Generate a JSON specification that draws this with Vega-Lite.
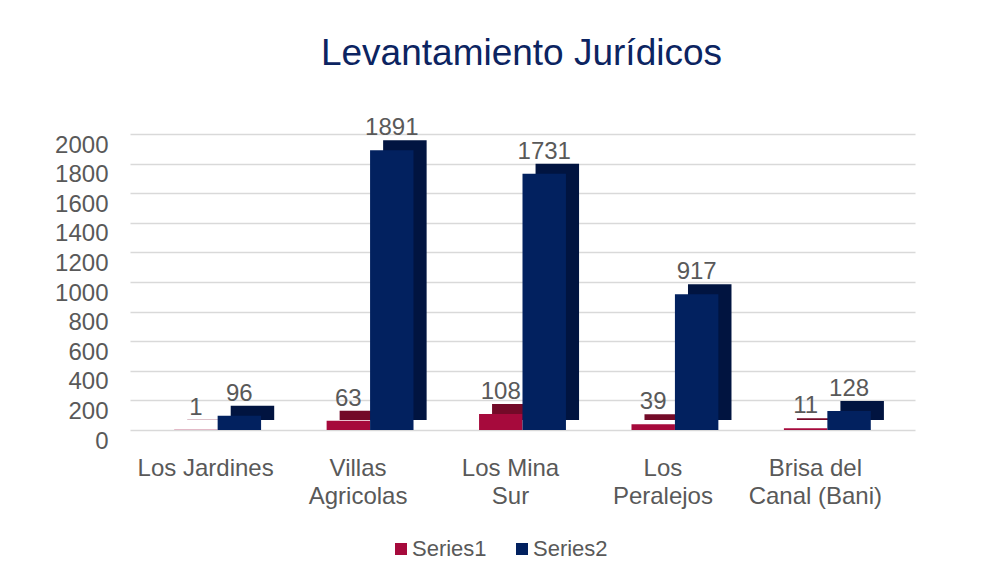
{
  "$schema": "https://vega.github.io/schema/vega-lite/v6.json",
  "autosize": "none",
  "width": 785,
  "height": 296,
  "padding": {"left": 130, "top": 134, "right": 69, "bottom": 151},
  "background": "white",
  "title": {
    "text": "Levantamiento Jurídicos",
    "font": "Liberation Sans",
    "fontSize": 37,
    "fontWeight": "normal",
    "color": "#0c2461",
    "anchor": "middle",
    "dx": -1,
    "offset": 43
  },
  "data": {
    "values": [
      {"category": "Los Jardines", "series": "Series1", "value": 1},
      {"category": "Los Jardines", "series": "Series2", "value": 96},
      {"category": "Villas Agricolas", "series": "Series1", "value": 63},
      {"category": "Villas Agricolas", "series": "Series2", "value": 1891},
      {"category": "Los Mina Sur", "series": "Series1", "value": 108},
      {"category": "Los Mina Sur", "series": "Series2", "value": 1731},
      {"category": "Los Peralejos", "series": "Series1", "value": 39},
      {"category": "Los Peralejos", "series": "Series2", "value": 917},
      {"category": "Brisa del Canal (Bani)", "series": "Series1", "value": 11},
      {"category": "Brisa del Canal (Bani)", "series": "Series2", "value": 128}
    ]
  },
  "encoding": {
    "x": {
      "field": "category",
      "type": "nominal",
      "sort": null,
      "title": null,
      "scale": {"paddingInner": 0.43, "paddingOuter": 0.29},
      "axis": {
        "domain": false,
        "ticks": false,
        "labelAngle": 0,
        "labelPadding": 26,
        "labelOffset": -12,
        "labelFont": "Liberation Sans",
        "labelFontSize": 24,
        "labelColor": "#595959",
        "labelLineHeight": 28,
        "labelBaseline": "top",
        "labelExpr": "datum.value == 'Villas Agricolas' ? ['Villas', 'Agricolas'] : datum.value == 'Los Mina Sur' ? ['Los Mina', 'Sur'] : datum.value == 'Los Peralejos' ? ['Los', 'Peralejos'] : datum.value == 'Brisa del Canal (Bani)' ? ['Brisa del', 'Canal (Bani)'] : datum.value"
      }
    },
    "y": {
      "field": "value",
      "type": "quantitative",
      "title": null,
      "scale": {"domain": [0, 2000], "nice": false},
      "axis": {
        "values": [0, 200, 400, 600, 800, 1000, 1200, 1400, 1600, 1800, 2000],
        "format": "d",
        "domain": false,
        "ticks": false,
        "grid": true,
        "gridColor": "#d9d9d9",
        "gridWidth": 1.5,
        "labelPadding": 22,
        "labelOffset": 11,
        "labelFont": "Liberation Sans",
        "labelFontSize": 24,
        "labelColor": "#595959"
      }
    }
  },
  "layer": [
    {
      "mark": {"type": "bar", "yOffset": -10},
      "encoding": {
        "xOffset": {"field": "series", "type": "nominal", "scale": {"range": [13, 100], "paddingInner": 0, "paddingOuter": 0}},
        "color": {
          "field": "series",
          "type": "nominal",
          "scale": {"domain": ["Series1", "Series2"], "range": ["#730a28", "#011440"]},
          "legend": null
        }
      }
    },
    {
      "encoding": {
        "xOffset": {"field": "series", "type": "nominal", "scale": {"paddingInner": 0, "paddingOuter": 0}}
      },
      "layer": [
        {
          "mark": {"type": "bar"},
          "encoding": {
            "color": {
              "field": "series",
              "type": "nominal",
              "scale": {"domain": ["Series1", "Series2"], "range": ["#a60a3c", "#02215f"]},
              "legend": {
                "title": null,
                "orient": "none",
                "direction": "horizontal",
                "legendX": 260,
                "legendY": 404,
                "symbolType": "square",
                "symbolSize": 144,
                "symbolStrokeWidth": 0,
                "labelFont": "Liberation Sans",
                "labelFontSize": 22,
                "labelColor": "#595959",
                "labelOffset": 0,
                "columnPadding": 24
              }
            }
          }
        },
        {
          "mark": {"type": "text", "font": "Liberation Sans", "fontSize": 24, "color": "#595959", "baseline": "alphabetic", "dy": -15},
          "encoding": {"text": {"field": "value", "type": "quantitative"}}
        }
      ]
    }
  ],
  "resolve": {"scale": {"color": "independent", "xOffset": "independent"}},
  "config": {"view": {"stroke": null}}
}
